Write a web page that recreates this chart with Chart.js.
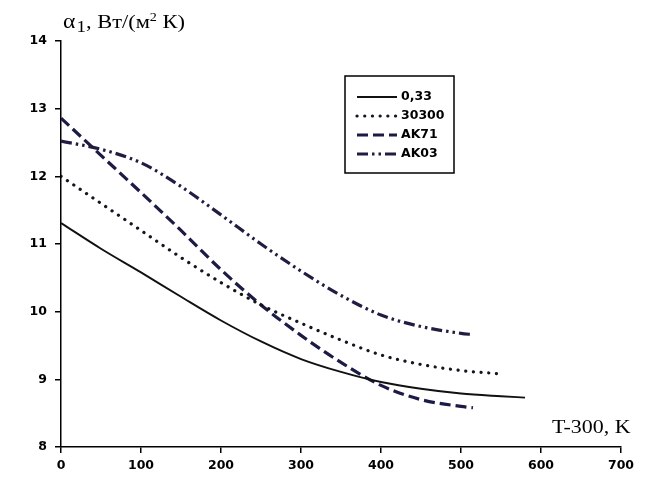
<!DOCTYPE html>
<html>
<head>
<meta charset="utf-8">
<script src="https://cdn.jsdelivr.net/npm/chart.js@4/dist/chart.umd.min.js"></script>
<style>
  html,body{margin:0;padding:0;background:#fff;}
  #wrap{width:648px;height:481px;}
</style>
</head>
<body>
<div id="wrap"><canvas id="c" width="648" height="481"></canvas></div>
<script>
// ---- data ----
const seriesNames = ['0,33', '30300', 'AK71', 'AK03'];

const x033  = [0, 50, 100, 150, 200, 250, 300, 350, 400, 450, 500, 550, 580];
const y033  = [11.31, 10.93, 10.58, 10.22, 9.87, 9.56, 9.30, 9.11, 8.96, 8.86, 8.79, 8.75, 8.73];

const x30300 = [0, 50, 100, 150, 200, 250, 300, 350, 400, 450, 500, 550];
const y30300 = [12.0, 11.6, 11.2, 10.8, 10.43, 10.1, 9.83, 9.58, 9.36, 9.22, 9.13, 9.08];

const xAK71 = [0, 50, 100, 150, 200, 250, 300, 350, 400, 450, 500, 515];
const yAK71 = [12.86, 12.31, 11.76, 11.2, 10.62, 10.1, 9.65, 9.25, 8.91, 8.7, 8.6, 8.58];

const xAK03 = [0, 50, 100, 150, 200, 250, 300, 350, 400, 450, 500, 515];
const yAK03 = [12.52, 12.4, 12.2, 11.85, 11.43, 11.0, 10.6, 10.24, 9.95, 9.78, 9.68, 9.66];

const xTicks = [0, 100, 200, 300, 400, 500, 600, 700];
const yTicks = [8, 9, 10, 11, 12, 13, 14];

const yTitleParts = { alpha: 'α', sub: '1', mid: ', Вт/(м', sup: '2', end: ' К)' };
const xTitle = 'T-300, K';

// ---- build ----
function pts(xs, ys){ return xs.map((x,i)=>({x:x, y:ys[i]})); }

const styles = [
  {borderColor:'#111111', borderWidth:1.9, borderDash:[], borderCapStyle:'butt'},
  {borderColor:'#15151f', borderWidth:3.2, borderDash:[0.1, 7.6], borderCapStyle:'round'},
  {borderColor:'#1b1b45', borderWidth:3.2, borderDash:[11, 5], borderCapStyle:'butt'},
  {borderColor:'#221c40', borderWidth:3.2, borderDash:[11, 4, 2.5, 4, 2.5, 4], borderCapStyle:'butt'}
];
const dataSets = [pts(x033,y033), pts(x30300,y30300), pts(xAK71,yAK71), pts(xAK03,yAK03)];

const datasets = dataSets.map((d,i)=>Object.assign({
  label: seriesNames[i],
  data: d,
  pointRadius: 0,
  fill: false,
  cubicInterpolationMode: 'monotone'
}, styles[i]));

const tickFont = {family:'"DejaVu Sans"', size:12.5, weight:'bold'};

const textPlugin = {
  id: 'texts',
  afterDraw(chart){
    const ctx = chart.ctx;
    const ca = chart.chartArea;
    ctx.save();
    ctx.fillStyle = '#000';
    ctx.textBaseline = 'alphabetic';
    // y-axis title
    ctx.save();
    ctx.translate(ca.left + 2, 28);
    ctx.scale(1.18, 1);
    let x = 0;
    ctx.font = '20px "Liberation Serif"';
    ctx.fillText(yTitleParts.alpha, x, 0); x += ctx.measureText(yTitleParts.alpha).width + 1;
    ctx.font = '16px "Liberation Serif"';
    ctx.fillText(yTitleParts.sub, x, 4); x += ctx.measureText(yTitleParts.sub).width;
    ctx.font = '19px "Liberation Serif"';
    ctx.fillText(yTitleParts.mid, x, 0); x += ctx.measureText(yTitleParts.mid).width;
    ctx.font = '12px "Liberation Serif"';
    ctx.fillText(yTitleParts.sup, x, -7); x += ctx.measureText(yTitleParts.sup).width;
    ctx.font = '19px "Liberation Serif"';
    ctx.fillText(yTitleParts.end, x, 0);
    ctx.restore();
    // x-axis title
    ctx.save();
    ctx.translate(552, 433);
    ctx.scale(1.22, 1);
    ctx.font = '18px "Liberation Serif"';
    ctx.fillText(xTitle, 0, 0);
    ctx.restore();
    // legend box
    const bx = 345, by = 76, bw = 109, bh = 97;
    ctx.fillStyle = '#fff';
    ctx.fillRect(bx, by, bw, bh);
    ctx.strokeStyle = '#000';
    ctx.lineWidth = 1.5;
    ctx.strokeRect(bx, by, bw, bh);
    const rows = [97, 116, 135, 154];
    chart.data.datasets.forEach((ds, i) => {
      const yy = rows[i];
      ctx.save();
      ctx.strokeStyle = ds.borderColor;
      ctx.lineWidth = ds.borderWidth;
      ctx.setLineDash(ds.borderDash);
      ctx.lineCap = ds.borderCapStyle;
      ctx.beginPath();
      ctx.moveTo(357, yy);
      ctx.lineTo(397, yy);
      ctx.stroke();
      ctx.restore();
      ctx.fillStyle = '#000';
      ctx.font = 'bold 12.5px "DejaVu Sans"';
      ctx.textBaseline = 'middle';
      ctx.fillText(ds.label, 401, yy);
    });
    ctx.restore();
  }
};

new Chart(document.getElementById('c'), {
  type: 'line',
  data: { datasets: datasets },
  options: {
    responsive: false,
    animation: false,
    layout: { padding: { top: 41, right: 27, left: 0, bottom: 0 } },
    plugins: { legend: { display: false }, tooltip: { enabled: false } },
    scales: {
      x: {
        type: 'linear',
        min: xTicks[0], max: xTicks[xTicks.length-1],
        afterBuildTicks: s => { s.ticks = xTicks.map(v=>({value:v})); },
        afterFit: s => { s.height = 34; },
        grid: { display: true, drawOnChartArea: false, drawTicks: true, tickLength: 6, color: '#000', lineWidth: 1.5 },
        border: { display: true, color: '#000', width: 1.5 },
        ticks: { color: '#000', font: tickFont, padding: 5, maxRotation: 0 }
      },
      y: {
        type: 'linear',
        min: yTicks[0], max: yTicks[yTicks.length-1],
        afterBuildTicks: s => { s.ticks = yTicks.map(v=>({value:v})); },
        afterFit: s => { s.width = 61; },
        grid: { display: true, drawOnChartArea: false, drawTicks: true, tickLength: 6, color: '#000', lineWidth: 1.5 },
        border: { display: true, color: '#000', width: 1.5 },
        ticks: { color: '#000', font: tickFont, padding: 8 }
      }
    }
  },
  plugins: [textPlugin]
});
</script>
</body>
</html>
